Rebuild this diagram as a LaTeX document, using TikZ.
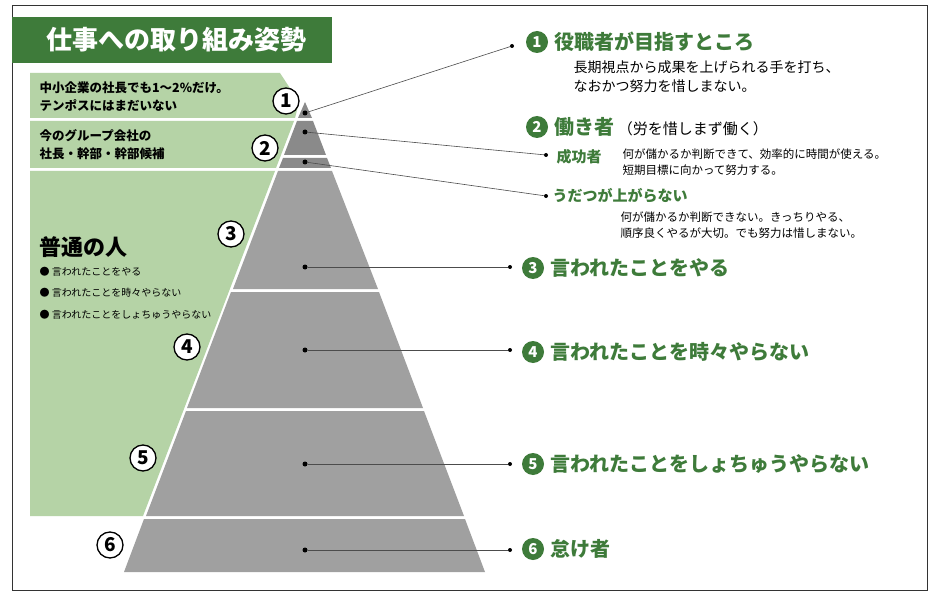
\documentclass[tikz,border=0pt]{standalone}
\usepackage{fontspec}
\setmainfont{Noto Sans CJK JP}
\begin{document}
\begin{tikzpicture}[x=1pt,y=-1pt,
  pdot/.style={circle,fill=black,inner sep=0pt,minimum size=5pt},
  ldot/.style={circle,fill=black,inner sep=0pt,minimum size=4pt},
  conn/.style={draw=black!70,line width=0.6pt},
  onum/.style={circle,draw=black,line width=1.3pt,fill=white,inner sep=0pt,minimum size=26pt,font=\fontsize{19}{19}\selectfont\bfseries},
  gnum/.style={circle,fill=dgreen,text=white,inner sep=0pt,minimum size=22pt,font=\fontsize{15}{15}\selectfont\bfseries},
  big/.style={anchor=west,text=dgreen,font=\fontsize{20}{22}\selectfont\bfseries},
  sub/.style={anchor=north west,align=left,font=\fontsize{14}{19}\selectfont},
  small/.style={anchor=north west,align=left,font=\fontsize{11.5}{16}\selectfont},
  ltxt/.style={anchor=north west,align=left,font=\fontsize{12.5}{18}\selectfont\bfseries},
  mid/.style={anchor=west,text=dgreen,font=\fontsize{15}{17}\selectfont\bfseries},
  bul/.style={anchor=west,font=\fontsize{10}{12}\selectfont}]
\definecolor{dgreen}{HTML}{3E7B3A}
\definecolor{lgreen}{HTML}{B5D3A6}
\definecolor{pgray}{HTML}{A0A0A0}
\definecolor{pdark}{HTML}{8A8A8A}
\useasboundingbox (0,0) rectangle (940,599);
\fill[white] (0,0) rectangle (940,599);
\draw[black!80,line width=1pt] (12,6) rectangle (927,590);
% title
\fill[dgreen] (12,17) rectangle (332,63);
\node[text=white,font=\fontsize{26}{28}\selectfont\bfseries] (title) at (176,40) {仕事への取り組み姿勢};
% green panels
\fill[lgreen] (30,73)--(280,73)--(299,102)--(295,118)--(30,118)--cycle;
\fill[lgreen] (30,121)--(294,121)--(276,168)--(30,168)--cycle;
\fill[lgreen] (30,171)--(275,171)--(143,516)--(30,516)--cycle;
% pyramid
\fill[pdark] (305,102)--(312,118)--(298,118)--cycle;
\fill[pdark] (297,121)--(313,121)--(326,155)--(284,155)--cycle;
\fill[pdark] (283,158)--(327,158)--(331,168)--(279,168)--cycle;
\fill[pgray] (278,171)--(332,171)--(378,289)--(233,289)--cycle;
\fill[pgray] (231,292)--(379,292)--(423,408)--(187,408)--cycle;
\fill[pgray] (186,411)--(424,411)--(464,516)--(146,516)--cycle;
\fill[pgray] (144,519)--(465,519)--(485,572)--(124,572)--cycle;
% left texts
\node[ltxt] (t1) at (36,78) {中小企業の社長でも1～2\%だけ。\\テンポスにはまだいない};
\node[ltxt] (t2) at (36,126) {今のグループ会社の\\社長・幹部・幹部候補};
\node[anchor=west,font=\fontsize{22}{24}\selectfont\bfseries] (t3) at (36,247) {普通の人};
\node[bul] (b1) at (36,272) {● 言われたことをやる};
\node[bul] (b2) at (36,293) {● 言われたことを時々やらない};
\node[bul] (b3) at (36,315) {● 言われたことをしょちゅうやらない};
% outlined numbers
\node[onum] (o1) at (286,101) {1};
\node[onum] (o2) at (265,148) {2};
\node[onum] (o3) at (231,234) {3};
\node[onum] (o4) at (187,347) {4};
\node[onum] (o5) at (143,458) {5};
\node[onum] (o6) at (110,545) {6};
% dots in pyramid
\node[pdot] (p1) at (305,113) {};
\node[pdot] (p2) at (305,132) {};
\node[pdot] (p3) at (305,162) {};
\node[pdot] (p4) at (305,267) {};
\node[pdot] (p5) at (305,350) {};
\node[pdot] (p6) at (305,464) {};
\node[pdot] (p7) at (305,550) {};
% label dots
\node[ldot] (l1) at (512,46) {};
\node[ldot] (l2) at (546,155) {};
\node[ldot] (l3) at (546,196) {};
\node[ldot] (l4) at (510,267) {};
\node[ldot] (l5) at (510,350) {};
\node[ldot] (l6) at (510,464) {};
\node[ldot] (l7) at (510,550) {};
\foreach \a/\b in {p1/l1,p2/l2,p3/l3,p4/l4,p5/l5,p6/l6,p7/l7}{\draw[conn] (\a)--(\b);}
% right labels
\node[gnum] (g1) at (537,42) {1};
\node[big] (r1) at (551,42) {役職者が目指すところ};
\node[sub] (r1s) at (570,57) {長期視点から成果を上げられる手を打ち、\\なおかつ努力を惜しまない。};
\node[gnum] (g2) at (537,127) {2};
\node[big] (r2) at (551,127) {働き者\,{\color{black}\fontsize{15}{18}\selectfont\mdseries（労を惜しまず働く）}};
\node[mid] (r2a) at (553,157) {成功者};
\node[small] (r2b) at (619,145) {何が儲かるか判断できて、効率的に時間が使える。\\短期目標に向かって努力する。};
\node[mid] (r2c) at (549,196) {うだつが上がらない};
\node[small] (r2d) at (617,208) {何が儲かるか判断できない。きっちりやる、\\順序良くやるが大切。でも努力は惜しまない。};
\node[gnum] (g3) at (533,268) {3};
\node[big] (r3) at (547,268) {言われたことをやる};
\node[gnum] (g4) at (533,352) {4};
\node[big] (r4) at (547,352) {言われたことを時々やらない};
\node[gnum] (g5) at (533,464) {5};
\node[big] (r5) at (547,464) {言われたことをしょちゅうやらない};
\node[gnum] (g6) at (533,549) {6};
\node[big] (r6) at (547,549) {怠け者};
\end{tikzpicture}
\end{document}
